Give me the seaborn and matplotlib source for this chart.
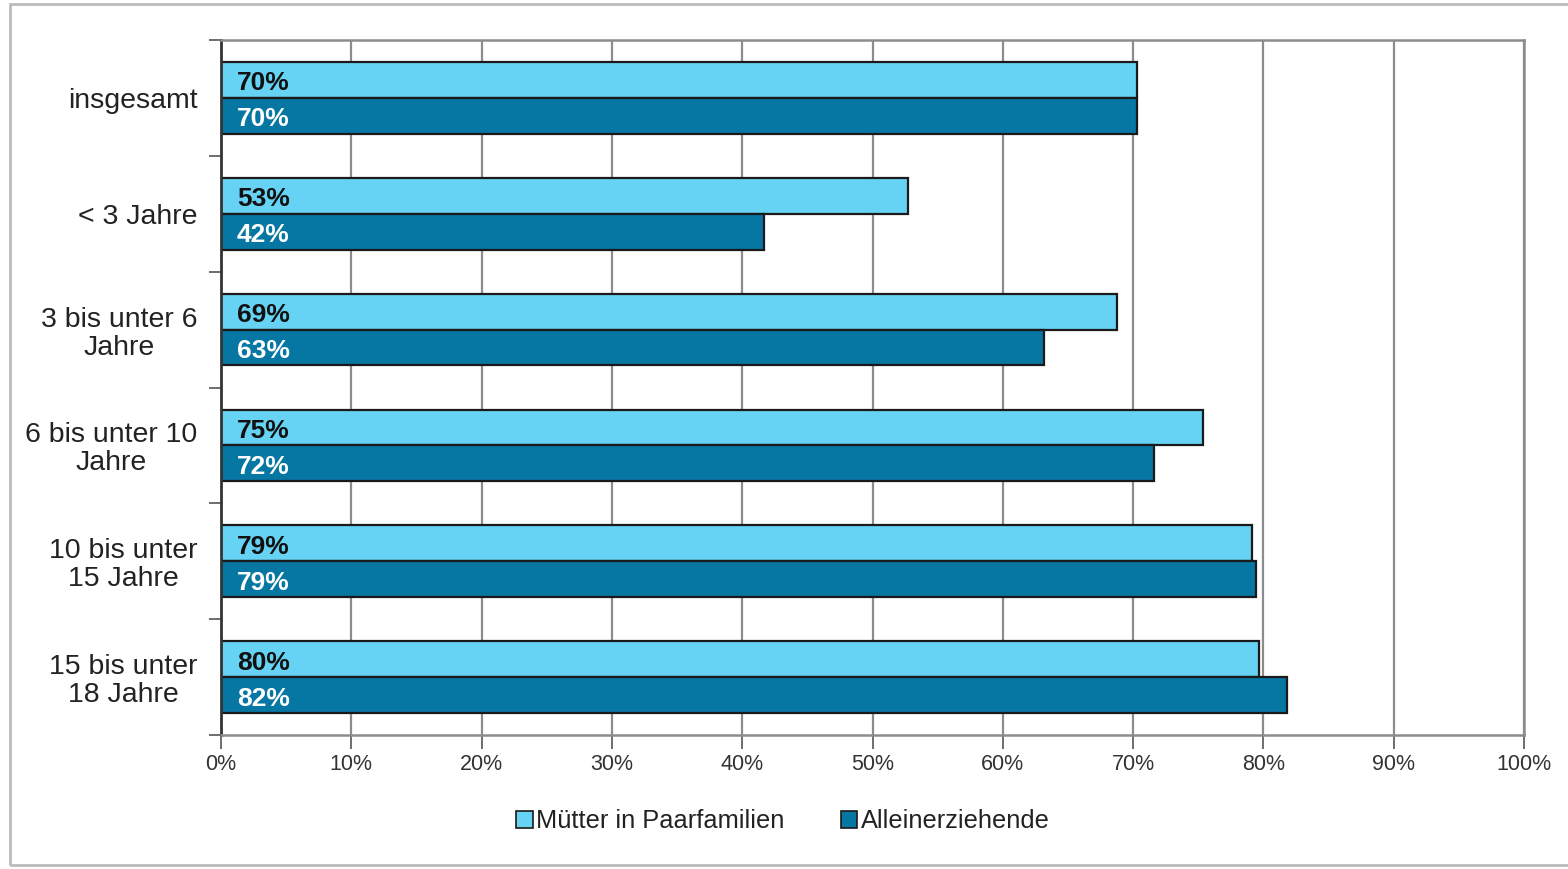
import matplotlib
matplotlib.use("Agg")
import matplotlib.pyplot as plt
from matplotlib.patches import Rectangle, Patch
from matplotlib.ticker import FuncFormatter
import seaborn as sns
import pandas as pd

# Erwerbstätigenquote nach Alter des jüngsten Kindes
categories = ["insgesamt", "< 3 Jahre", "3 bis unter 6\nJahre", "6 bis unter 10\nJahre",
              "10 bis unter\n15 Jahre", "15 bis unter\n18 Jahre"]
series_names = ["Mütter in Paarfamilien", "Alleinerziehende"]
muetter_paarfamilien = [70.3, 52.7, 68.8, 75.4, 79.1, 79.7]
alleinerziehende = [70.3, 41.7, 63.2, 71.6, 79.4, 81.8]
x_ticks = [0, 10, 20, 30, 40, 50, 60, 70, 80, 90, 100]

colors = ["#66D3F5", "#0676A2"]
label_colors = ["#111111", "#FFFFFF"]

df = pd.DataFrame({
    "Gruppe": categories * 2,
    "Serie": [series_names[0]] * len(categories) + [series_names[1]] * len(categories),
    "Wert": muetter_paarfamilien + alleinerziehende,
})

sns.set_theme(style="white")
plt.rcParams["font.family"] = ["Liberation Sans", "DejaVu Sans"]

fig = plt.figure(figsize=(15.68, 8.69), dpi=100)
ax = fig.add_axes([221 / 1568, 1 - 735 / 869, (1524 - 221) / 1568, (735 - 40) / 869])

sns.barplot(data=df, x="Wert", y="Gruppe", hue="Serie", order=categories,
            hue_order=series_names, palette=colors, orient="h", width=0.62,
            edgecolor="#1A1A1A", linewidth=1.6, saturation=1, legend=False, ax=ax)

# value labels at the start of each bar
for container, tcol in zip(ax.containers, label_colors):
    for patch in container:
        val = patch.get_width()
        ax.annotate(f"{val:.0f}%", xy=(0, patch.get_y() + patch.get_height() / 2),
                    xytext=(11.5, -2.5), textcoords="offset points", ha="left", va="center",
                    fontsize=19, fontweight="bold", color=tcol, zorder=5)

ax.set_xlim(0, 100)
ax.set_ylim(len(categories) - 0.5, -0.5)
ax.set_xticks(x_ticks)
ax.xaxis.set_major_formatter(FuncFormatter(lambda v, p: f"{v:.0f}%"))
ax.grid(axis="x", color="#8C8C8C", linewidth=1.6, zorder=0)
ax.set_axisbelow(True)
ax.set_xlabel("")
ax.set_ylabel("")

# category separators as ticks on the left spine
ax.set_yticks([i - 0.5 for i in range(len(categories) + 1)], minor=True)
ax.tick_params(axis="y", which="minor", length=9, width=1.2, color="#555555", left=True)
ax.tick_params(axis="y", which="major", length=0, pad=17, labelsize=20.5, labelcolor="#222222")
ax.tick_params(axis="x", which="major", length=10, width=1.2, color="#555555", bottom=True,
               pad=4, labelsize=15.5, labelcolor="#333333")
for lbl in ax.get_yticklabels():
    lbl.set_multialignment("center")
    lbl.set_linespacing(1.1)

for side, col, lw in [("left", "#333333", 2.0), ("bottom", "#8C8C8C", 1.8),
                      ("top", "#8C8C8C", 1.8), ("right", "#8C8C8C", 1.8)]:
    ax.spines[side].set_visible(True)
    ax.spines[side].set_color(col)
    ax.spines[side].set_linewidth(lw)

handles = [Patch(facecolor=c, edgecolor="#1A1A1A", linewidth=1.2) for c in colors]
fig.legend(handles, series_names, loc="center", bbox_to_anchor=(783 / 1568, 1 - 821 / 869),
           ncol=2, frameon=False, fontsize=18.3, handlelength=0.65, handleheight=0.65,
           handletextpad=0.15, columnspacing=2.2, labelcolor="#222222")

# light frame around the chart area
fig.patches.append(Rectangle((10 / 1568, 4 / 869), 1.05, 861 / 869, transform=fig.transFigure,
                             fill=False, edgecolor="#BBBBBB", linewidth=2.0, zorder=0))

fig.savefig("out.png", dpi=100, facecolor="white")
